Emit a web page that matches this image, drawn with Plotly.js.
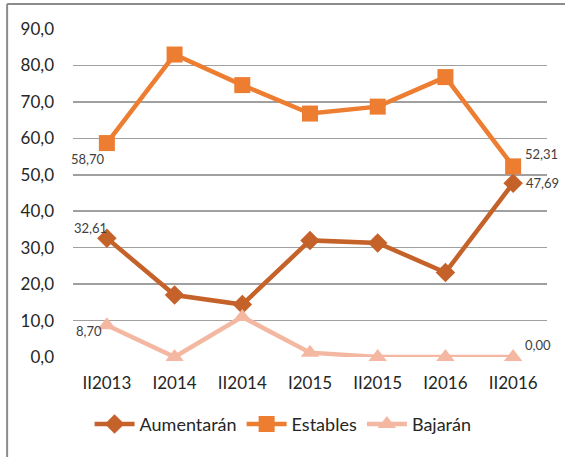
<!DOCTYPE html>
<html>
<head>
<meta charset="utf-8">
<script src="https://cdn.plot.ly/plotly-3.0.1.min.js"></script>
<style>html,body{margin:0;padding:0;background:#fff;}#chart{width:565px;height:457px;}</style>
</head>
<body>
<div id="chart"></div>
<script>
const categories = ["II2013", "I2014", "II2014", "I2015", "II2015", "I2016", "II2016"];
const aumentaran = [32.61, 17.0, 14.4, 32.0, 31.3, 23.2, 47.69];
const estables = [58.70, 83.0, 74.6, 66.8, 68.7, 76.8, 52.31];
const bajaran = [8.70, 0.0, 11.0, 1.2, 0.0, 0.0, 0.0];
const yTicks = [0, 10, 20, 30, 40, 50, 60, 70, 80, 90];

const FONT = "Lato, 'Open Sans', sans-serif";
const fmt = v => v.toFixed(2).replace('.', ',');

const traces = [
  {name: "Aumentarán", x: categories, y: aumentaran, type: "scatter", mode: "lines+markers",
   line: {color: "#C5622A", width: 4.5}, marker: {symbol: "diamond", size: 15, color: "#C5622A"}, cliponaxis: false},
  {name: "Estables", x: categories, y: estables, type: "scatter", mode: "lines+markers",
   line: {color: "#ED7D31", width: 4.5}, marker: {symbol: "square", size: 16, color: "#ED7D31"}, cliponaxis: false},
  {name: "Bajarán", x: categories, y: bajaran, type: "scatter", mode: "lines+markers",
   line: {color: "#F4B8A2", width: 4.5}, marker: {symbol: "triangle-up", size: 16, color: "#F4B8A2"}, cliponaxis: false}
];

const last = categories.length - 1;
const annFont = {family: FONT, size: 13, color: "#404040"};
const annotations = [
  {x: categories[0], y: estables[0], text: fmt(estables[0]), showarrow: false, xanchor: "right", yanchor: "top", xshift: 0, yshift: -6, font: annFont},
  {x: categories[0], y: aumentaran[0], text: fmt(aumentaran[0]), showarrow: false, xanchor: "center", yanchor: "middle", xshift: -16, yshift: 10, font: annFont},
  {x: categories[0], y: bajaran[0], text: fmt(bajaran[0]), showarrow: false, xanchor: "right", yanchor: "middle", xshift: -3, yshift: -6, font: annFont},
  {x: categories[last], y: estables[last], text: fmt(estables[last]), showarrow: false, xanchor: "left", yanchor: "bottom", xshift: 10, yshift: 2, font: annFont},
  {x: categories[last], y: aumentaran[last], text: fmt(aumentaran[last]), showarrow: false, xanchor: "left", yanchor: "middle", xshift: 11, yshift: 0, font: annFont},
  {x: categories[last], y: bajaran[last], text: fmt(bajaran[last]), showarrow: false, xanchor: "left", yanchor: "bottom", xshift: 10, yshift: 2, font: annFont}
];

const layout = {
  width: 565, height: 457,
  margin: {l: 73, r: 18, t: 29, b: 100},
  separators: ",.",
  paper_bgcolor: "#fff", plot_bgcolor: "#fff",
  font: {family: FONT, size: 16, color: "#262626"},
  showlegend: true,
  legend: {orientation: "h", x: 0.035, xanchor: "left", y: -0.205, yanchor: "middle",
           font: {family: FONT, size: 18, color: "#262626"}, itemwidth: 40, traceorder: "normal"},
  xaxis: {type: "category", range: [-0.5, 6.5], showgrid: false, zeroline: false, showline: false,
          ticks: "", ticklabelstandoff: 14, tickfont: {family: FONT, size: 17, color: "#262626"}, fixedrange: true},
  yaxis: {range: [0, 90], tickvals: yTicks, tickformat: ".1f", showgrid: true, gridcolor: "#A0A0A0", gridwidth: 1.5,
          zeroline: false, showline: false, ticks: "", ticklen: 0, ticklabelstandoff: 18,
          tickfont: {family: FONT, size: 17, color: "#262626"}, fixedrange: true},
  annotations: annotations,
  shapes: [
    {type: "line", xref: "paper", yref: "paper", x0: -0.139, x1: 1.1, y0: 1.076, y1: 1.076, line: {color: "#8C8C8C", width: 2}},
    {type: "line", xref: "paper", yref: "paper", x0: -0.139, x1: -0.139, y0: 1.076, y1: -0.32, line: {color: "#8C8C8C", width: 2}}
  ]
};

Plotly.newPlot("chart", traces, layout, {displayModeBar: false, staticPlot: true});
</script>
</body>
</html>
